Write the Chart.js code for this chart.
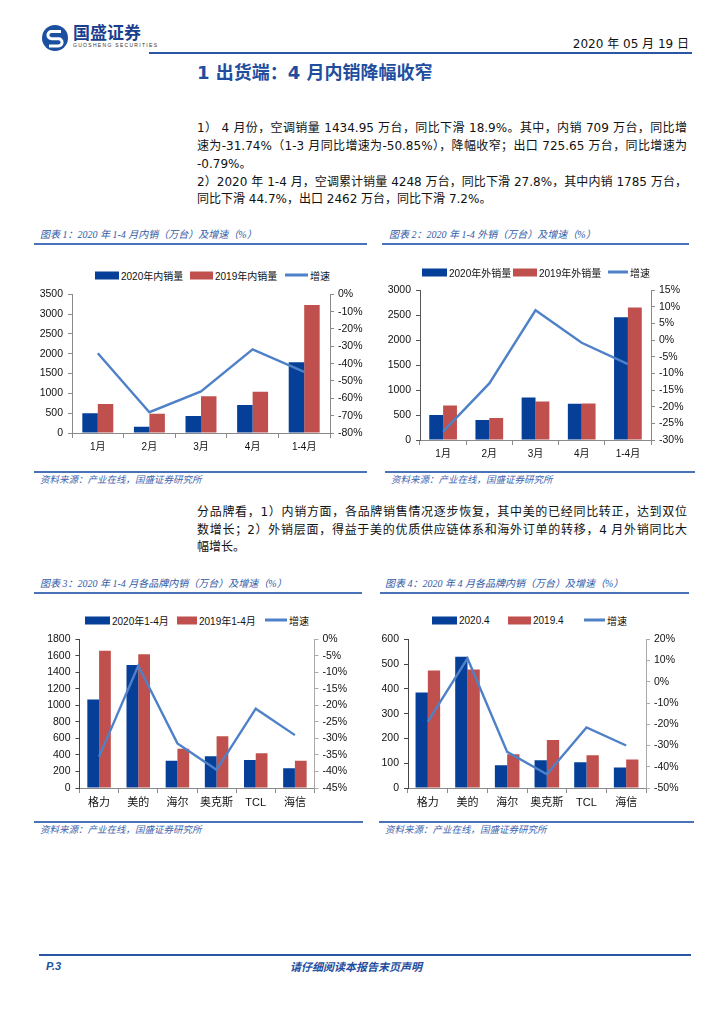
<!DOCTYPE html>
<html>
<head>
<meta charset="utf-8">
<script src="https://cdn.jsdelivr.net/npm/chart.js@4.4.1/dist/chart.umd.min.js"></script>
<style>
  html, body { margin:0; padding:0; background:#fff; }
  body { width:724px; height:1024px; position:relative; overflow:hidden;
         font-family:"DejaVu Sans","Noto Sans CJK SC",sans-serif; color:#111; }
  .abs { position:absolute; white-space:nowrap; }
  .hline { position:absolute; height:2px; background:#4A72B8; }
  .cap { position:absolute; white-space:nowrap; font-style:italic; font-size:10px; color:#2F5AA6;
         font-family:"Liberation Serif","Noto Sans CJK SC",serif; transform:translateY(-50%); }
  .src { position:absolute; white-space:nowrap; font-style:italic; font-size:9.5px; color:#3E64AE;
         font-family:"Noto Sans CJK SC",sans-serif; transform:translateY(-50%); }
  .body { position:absolute; left:197px; width:490px; font-size:12px; line-height:14px;
          font-family:"DejaVu Sans","Noto Sans CJK SC",sans-serif; color:#111; transform:translateY(-50%); }
  .just { text-align:justify; text-align-last:justify; }
  .box { position:absolute; }
  .leg { position:absolute; display:flex; align-items:center; white-space:nowrap; font-size:10px;
         font-family:"Liberation Sans","Noto Sans CJK SC",sans-serif; color:#111; transform:translateY(-50%); }
  .leg span.sw { display:inline-block; margin-right:2px; }
</style>
</head>
<body>
<!-- header -->
<svg class="abs" style="left:41px;top:24px" width="28" height="28" viewBox="0 0 28 28">
  <circle cx="14" cy="14" r="13" fill="#1B4FA0"/>
  <path d="M20 7.5 H10.5 a3.6 3.6 0 0 0 0 7.2 H17.5 a3.6 3.6 0 0 1 0 7.2 H8" fill="none" stroke="#fff" stroke-width="3"/>
</svg>
<div class="abs" style="left:73px;top:22px;font-size:17px;font-weight:bold;color:#1B3F8F;font-family:'Noto Sans CJK SC';line-height:20px;">国盛证券</div>
<div class="abs" style="left:73px;top:42px;font-size:5px;letter-spacing:1.3px;color:#333;font-family:'Liberation Sans';">GUOSHENG SECURITIES</div>
<div class="abs" style="right:35px;top:36px;font-size:12px;line-height:16px;color:#111;font-family:'DejaVu Sans','Noto Sans CJK SC';">2020 年 05 月 19 日</div>
<div class="hline" style="left:149px;top:52px;width:543px;background:#2B56A3;"></div>
<div class="abs" style="left:197px;top:62px;font-size:18px;line-height:22px;font-weight:bold;color:#1F4E9F;font-family:'DejaVu Sans','Noto Sans CJK SC';">1 出货端：4 月内销降幅收窄</div>

<!-- paragraph 1 -->
<div class="body just" style="top:128px">1） 4 月份，空调销量 1434.95 万台，同比下滑 18.9%。其中，内销 709 万台，同比增</div>
<div class="body just" style="top:146px">速为-31.74%（1-3 月同比增速为-50.85%），降幅收窄；出口 725.65 万台，同比增速为</div>
<div class="body" style="top:164px">-0.79%。</div>
<div class="body just" style="top:182px">2）2020 年 1-4 月，空调累计销量 4248 万台，同比下滑 27.8%，其中内销 1785 万台，</div>
<div class="body" style="top:199px">同比下滑 44.7%，出口 2462 万台，同比下滑 7.2%。</div>

<!-- captions row 1 -->
<div class="cap" style="left:40px;top:233px">图表 1：2020 年 1-4 月内销（万台）及增速（%）</div>
<div class="hline" style="left:34px;top:243px;width:333px;"></div>
<div class="cap" style="left:389px;top:233px">图表 2：2020 年 1-4 外销（万台）及增速（%）</div>
<div class="hline" style="left:382px;top:243px;width:307px;"></div>

<div class="box" style="left:30px;top:283px;width:340px;height:177px;"><canvas id="c1"></canvas></div>
<div class="box" style="left:375px;top:279px;width:345px;height:186px;"><canvas id="c2"></canvas></div>

<div class="hline" style="left:34px;top:471px;width:333px;"></div>
<div class="src" style="left:40px;top:479px">资料来源：产业在线，国盛证券研究所</div>
<div class="hline" style="left:385px;top:471px;width:310px;"></div>
<div class="src" style="left:391px;top:479px">资料来源：产业在线，国盛证券研究所</div>

<!-- paragraph 2 -->
<div class="body just" style="top:512px">分品牌看，1）内销方面，各品牌销售情况逐步恢复，其中美的已经同比转正，达到双位</div>
<div class="body just" style="top:530px">数增长；2）外销层面，得益于美的优质供应链体系和海外订单的转移，4 月外销同比大</div>
<div class="body" style="top:547px">幅增长。</div>

<!-- captions row 2 -->
<div class="cap" style="left:40px;top:582px">图表 3：2020 年 1-4 月各品牌内销（万台）及增速（%）</div>
<div class="hline" style="left:34px;top:592px;width:328px;"></div>
<div class="cap" style="left:385px;top:582px">图表 4：2020 年 4 月各品牌内销（万台）及增速（%）</div>
<div class="hline" style="left:380px;top:592px;width:309px;"></div>

<div class="box" style="left:30px;top:628px;width:330px;height:185px;"><canvas id="c3"></canvas></div>
<div class="box" style="left:375px;top:628px;width:345px;height:185px;"><canvas id="c4"></canvas></div>

<div class="hline" style="left:34px;top:821px;width:329px;"></div>
<div class="src" style="left:40px;top:829px">资料来源：产业在线，国盛证券研究所</div>
<div class="hline" style="left:379px;top:821px;width:315px;"></div>
<div class="src" style="left:385px;top:829px">资料来源：产业在线，国盛证券研究所</div>

<!-- footer -->
<div class="hline" style="left:39px;top:954px;width:652px;background:#2B56A3;"></div>
<div class="abs" style="left:46px;top:959px;font-size:11px;line-height:14px;font-weight:bold;font-style:italic;color:#1F4E9F;font-family:'Liberation Sans';">P.3</div>
<div class="abs" style="left:290px;top:959px;font-size:11px;line-height:14px;font-weight:bold;font-style:italic;color:#1F4E9F;font-family:'Noto Sans CJK SC';">请仔细阅读本报告末页声明</div>

<script>
// ---------- data ----------
const months = ['1月', '2月', '3月', '4月', '1-4月'];
const domestic2020 = [500, 155, 430, 709, 1785];
const domestic2019 = [730, 485, 930, 1039, 3228];
const domesticGrowth = [-34, -68, -56, -31.74, -44.7];

const export2020 = [500, 400, 850, 726, 2462];
const export2019 = [690, 440, 770, 731, 2653];
const exportGrowth = [-27.5, -13, 9, -0.79, -7.2];

const brands = ['格力', '美的', '海尔', '奥克斯', 'TCL', '海信'];
const brandYTD2020 = [1070, 1490, 330, 385, 340, 240];
const brandYTD2019 = [1660, 1620, 475, 625, 420, 330];
const brandYTDGrowth = [-35.5, -8, -31.5, -39.5, -21, -29];

const brandApr2020 = [385, 530, 92, 112, 104, 83];
const brandApr2019 = [474, 478, 136, 194, 132, 115];
const brandAprGrowth = [-18.8, 11, -33, -43.5, -21.5, -30];

const legend1 = ['2020年内销量', '2019年内销量', '增速'];
const legend2 = ['2020年外销量', '2019年外销量', '增速'];
const legend3 = ['2020年1-4月', '2019年1-4月', '增速'];
const legend4 = ['2020.4', '2019.4', '增速'];

// ---------- styling ----------
const BLUE = '#063F98', RED = '#C0504D', LINE = '#4F81C8';
Chart.defaults.font.family = '"Liberation Sans","Noto Sans CJK SC",sans-serif';
Chart.defaults.color = '#111';

function legend(x0, y, names, xs, ws) {
  names.forEach((t, i) => {
    const d = document.createElement('div');
    d.className = 'leg';
    d.style.left = xs[i] + 'px';
    d.style.top = y + 'px';
    const sw = document.createElement('span');
    sw.className = 'sw';
    sw.style.width = ws[i] + 'px';
    sw.style.height = (i < 2 ? 8 : 3) + 'px';
    sw.style.background = i === 0 ? BLUE : (i === 1 ? RED : LINE);
    d.appendChild(sw);
    d.appendChild(document.createTextNode(t));
    document.body.appendChild(d);
  });
}

function makeChart(id, labels, a, b, g, o) {
  const axisCol = o.axisCol || '#8a8a8a';
  new Chart(document.getElementById(id), {
    data: {
      labels: labels,
      datasets: [
        { type: 'line', data: g, yAxisID: 'y1', borderColor: LINE, borderWidth: 2.4,
          pointRadius: 0, tension: 0, order: 0 },
        { type: 'bar', data: a, yAxisID: 'y', backgroundColor: BLUE, order: 1,
          categoryPercentage: o.cat, barPercentage: 1.0 },
        { type: 'bar', data: b, yAxisID: 'y', backgroundColor: RED, order: 2,
          categoryPercentage: o.cat, barPercentage: 1.0 }
      ]
    },
    options: {
      responsive: true, maintainAspectRatio: false, animation: false,
      layout: { padding: { top: o.padTop, left: 0, right: 0, bottom: 0 } },
      plugins: { legend: { display: false }, tooltip: { enabled: false } },
      scales: {
        x: {
          offset: true,
          grid: { display: true, drawOnChartArea: false, drawTicks: true, tickLength: 5,
                  color: axisCol, offset: true },
          border: { display: true, color: axisCol },
          ticks: { font: { size: o.xFont }, padding: 3, maxRotation: 0, autoSkip: false, color: '#111' },
          afterFit: s => { s.height = o.xH; }
        },
        y: {
          position: 'left', min: o.lmin, max: o.lmax,
          grid: { display: true, drawOnChartArea: false, tickLength: 4, color: o.leftCol || axisCol },
          border: { display: true, color: o.leftCol || axisCol },
          ticks: { stepSize: o.lstep, font: { size: o.yFont }, padding: 5, color: '#111',
                   callback: v => String(v) },
          afterFit: s => { s.width = o.lW; }
        },
        y1: {
          position: 'right', min: o.rmin, max: o.rmax,
          grid: { display: true, drawOnChartArea: false, tickLength: 4, color: o.rightCol || axisCol },
          border: { display: true, color: o.rightCol || axisCol },
          ticks: { stepSize: o.rstep, font: { size: o.yFont }, padding: 4, color: '#111',
                   callback: v => v + '%' },
          afterFit: s => { s.width = o.rW; }
        }
      }
    }
  });
}

makeChart('c1', months, domestic2020, domestic2019, domesticGrowth,
  { cat: 0.6, padTop: 10, lW: 42, rW: 40, xH: 27, lmin: 0, lmax: 3500, lstep: 500,
    rmin: -80, rmax: 0, rstep: 10, xFont: 10, yFont: 10.5 });
makeChart('c2', months, export2020, export2019, exportGrowth,
  { cat: 0.6, padTop: 10, lW: 45, rW: 69, xH: 25, lmin: 0, lmax: 3000, lstep: 500,
    rmin: -30, rmax: 15, rstep: 5, xFont: 10, yFont: 10.5, leftCol: '#555' });
makeChart('c3', brands, brandYTD2020, brandYTD2019, brandYTDGrowth,
  { cat: 0.6, padTop: 10, lW: 49.5, rW: 45.5, xH: 25, lmin: 0, lmax: 1800, lstep: 200,
    rmin: -45, rmax: 0, rstep: 5, xFont: 11, yFont: 10.5, leftCol: '#444', rightCol: '#aaa' });
makeChart('c4', brands, brandApr2020, brandApr2019, brandAprGrowth,
  { cat: 0.62, padTop: 10, lW: 33, rW: 74, xH: 25, lmin: 0, lmax: 600, lstep: 100,
    rmin: -50, rmax: 20, rstep: 10, xFont: 11, yFont: 10.5, leftCol: '#444', rightCol: '#aaa' });

legend(0, 275, legend1, [95, 190, 285], [24, 23, 23]);
legend(0, 272, legend2, [422, 513, 608], [25, 24, 20]);
legend(0, 620, legend3, [85, 177, 265], [25, 20, 22]);
legend(0, 620, legend4, [432, 508, 584], [25, 23, 21]);
</script>
</body>
</html>
